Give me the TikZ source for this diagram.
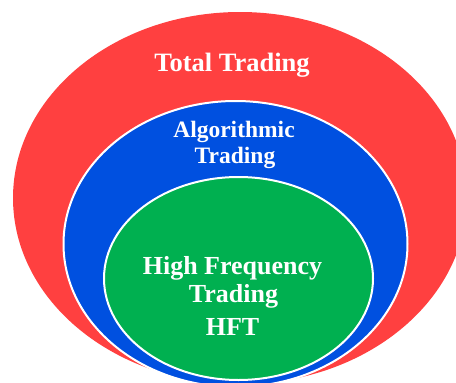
\documentclass[tikz,border=0pt]{standalone}
\usepackage{fontspec}
\setmainfont{Liberation Serif}
\usetikzlibrary{shapes.geometric}
\definecolor{ringred}{HTML}{FF4040}
\definecolor{ringblue}{HTML}{0050E0}
\definecolor{ringgreen}{HTML}{00B050}
\tikzset{
  ring/.style={ellipse, inner sep=0pt, outer sep=0pt},
  lbl/.style={text=white, anchor=base, inner sep=0pt, font=\bfseries\fontsize{#1}{#1}\selectfont},
}
\begin{document}
\begin{tikzpicture}[x=1pt,y=-1pt]
\useasboundingbox (0,0) rectangle (456,383);
\clip (0,0) rectangle (456,383);
\node[ring, fill=ringred, minimum width=454pt, minimum height=372pt] (total) at (240,198) {};
\node[ring, fill=ringblue, draw=white, line width=2pt, minimum width=344pt, minimum height=286pt] (algo) at (235.5,244) {};
\node[ring, fill=ringgreen, draw=white, line width=2pt, minimum width=269pt, minimum height=203pt] (hft) at (238.5,278.5) {};
\node[lbl=26.5] (t1) at (232,71) {Total Trading};
\node[lbl=23.5] (a1) at (234,137) {Algorithmic};
\node[lbl=23.5] (a2) at (235,163) {Trading};
\node[lbl=26] (h1) at (232.5,274) {High Frequency};
\node[lbl=26] (h2) at (233.5,302) {Trading};
\node[lbl=26] (h3) at (232.5,335) {HFT};
\end{tikzpicture}
\end{document}
